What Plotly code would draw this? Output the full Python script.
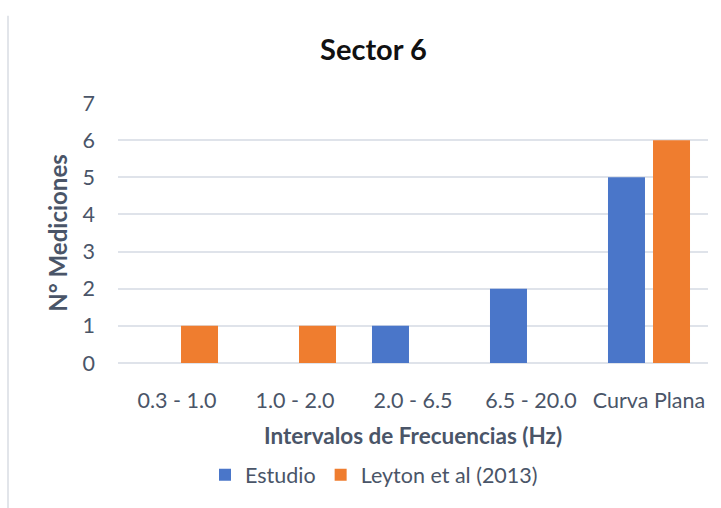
import plotly.graph_objects as go

# Frequency intervals and number of measurements per source
categorias = ["0.3 - 1.0", "1.0 - 2.0", "2.0 - 6.5", "6.5 - 20.0", "Curva Plana"]
estudio = [0, 0, 1, 2, 5]
leyton = [1, 1, 0, 0, 6]
ticks_y = [0, 1, 2, 3, 4, 5, 6, 7]

FONT = "Lato"
TEXT = "#4a5568"
GRID = "#dfe3ea"

fig = go.Figure()
fig.add_trace(go.Bar(name="Estudio", x=categorias, y=estudio,
                     marker=dict(color="#4a76c9", line=dict(width=0))))
fig.add_trace(go.Bar(name="Leyton et al (2013)", x=categorias, y=leyton,
                     marker=dict(color="#ef7d2f", line=dict(width=0))))

fig.update_layout(
    width=721, height=508,
    margin=dict(l=118, r=13, t=103, b=140),
    paper_bgcolor="white", plot_bgcolor="white",
    barmode="group", bargap=0.237, bargroupgap=0.178,
    font=dict(family=FONT, color=TEXT, size=21.5),
    title=dict(text="<b>Sector 6</b>", x=0.518, xanchor="center",
               y=1 - 50 / 508, yanchor="middle",
               font=dict(family=FONT, size=29, color="#111111")),
    legend=dict(orientation="h", x=(374 - 118) / 590, xref="paper", xanchor="center",
                y=(368 - 482) / 265, yanchor="middle",
                font=dict(size=21.5, color=TEXT), itemwidth=30,
                traceorder="normal"),
    showlegend=True,
)

fig.update_xaxes(
    showgrid=False, showline=False, zeroline=False,
    tickfont=dict(size=21.5, color=TEXT), ticklabelstandoff=22,
    title=dict(text="<b>Intervalos de Frecuencias (Hz)</b>",
               font=dict(size=22.5, color=TEXT), standoff=16),
)
fig.update_yaxes(
    range=[0, 7], tickvals=ticks_y, showgrid=True, gridcolor=GRID, gridwidth=1.5,
    zeroline=True, zerolinecolor=GRID, zerolinewidth=1.5, showline=False,
    tickfont=dict(size=21.5, color=TEXT), ticklabelstandoff=22,
    title=dict(text="<b>N° Mediciones</b>", font=dict(size=24, color=TEXT), standoff=8),
)

# Thin grey border along the left edge of the chart area
fig.add_shape(type="line", xref="paper", yref="paper",
              x0=(8 - 118) / 590, x1=(8 - 118) / 590,
              y0=(368 - 14) / 265, y1=(368 - 520) / 265,
              line=dict(color="#d9dde3", width=1.5))

fig.write_html("out.html")
